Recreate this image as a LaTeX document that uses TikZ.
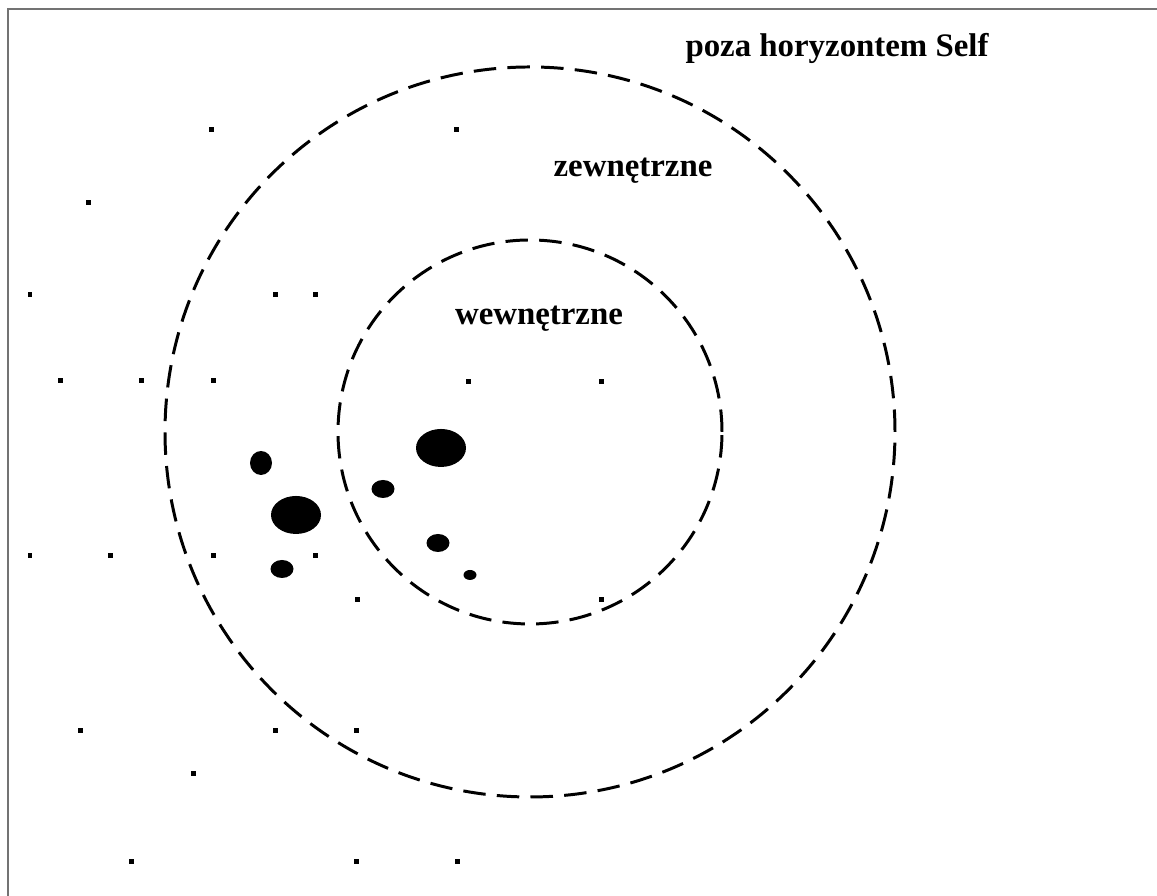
\documentclass[tikz,border=0pt]{standalone}
\usepackage{fontspec}
\setmainfont{Liberation Serif}
\usetikzlibrary{positioning}

\tikzset{
  horizon/.style={line width=0.85pt, dash pattern=on 6.4pt off 3.2pt},
  zone/.style={font=\bfseries\fontsize{9.35}{11}\selectfont, inner sep=0pt},
  speck/.style={fill=black},
  blob/.style={fill=black}
}

\begin{document}
\begin{tikzpicture}
  \useasboundingbox (0,0) rectangle (11.57,8.96);

  % Frame (only top and left edge visible)
  \draw[black!55, line width=0.8pt] (0.08,0) -- (0.08,8.87) -- (11.57,8.87);

  % Horizons
  \coordinate (self) at (5.30,4.64);
  \draw[horizon] (self) circle (3.65);
  \draw[horizon] (self) circle (1.92);

  % Labels
  \node[zone] (beyond) at (8.37,8.47) {poza horyzontem Self};
  \node[zone] (outer) at (6.33,7.25) {zewnętrzne};
  \node[zone] (inner) at (5.39,5.77) {wewnętrzne};

  % Scattered specks
  \foreach \x/\y in {2.11/7.66, 4.56/7.66, 0.88/6.93,
                     0.30/6.01, 2.75/6.01, 3.15/6.01,
                     0.60/5.15, 1.41/5.15, 2.13/5.15, 4.68/5.14, 6.01/5.14,
                     0.30/3.40, 1.10/3.40, 2.13/3.40, 3.15/3.40,
                     3.57/2.96, 6.01/2.96,
                     0.80/1.65, 2.75/1.65, 3.56/1.65, 1.93/1.22,
                     1.31/0.34, 3.56/0.34, 4.57/0.34}
    \fill[speck] (\x-0.025,\y-0.025) rectangle (\x+0.025,\y+0.025);

  % Blobs
  \fill[blob] (2.61,4.33) ellipse (0.11 and 0.12);
  \fill[blob] (2.96,3.81) ellipse (0.25 and 0.19);
  \fill[blob] (2.82,3.27) ellipse (0.115 and 0.09);
  \fill[blob] (3.83,4.07) ellipse (0.115 and 0.09);
  \fill[blob] (4.41,4.48) ellipse (0.25 and 0.19);
  \fill[blob] (4.38,3.53) ellipse (0.115 and 0.09);
  \fill[blob] (4.70,3.21) ellipse (0.065 and 0.05);
\end{tikzpicture}
\end{document}
